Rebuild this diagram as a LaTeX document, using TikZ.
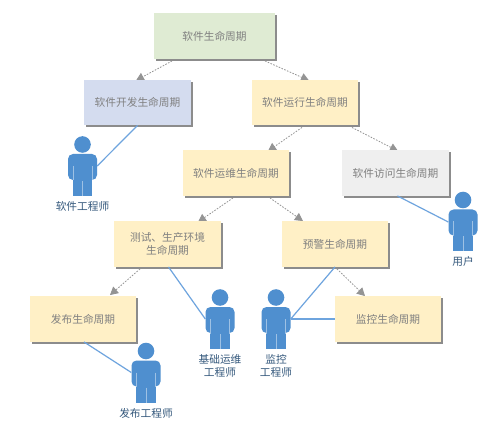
\documentclass[tikz,border=0pt]{standalone}
\usepackage{fontspec}
\setmainfont{Noto Sans CJK SC}
\usetikzlibrary{arrows.meta,shadows,backgrounds}
\definecolor{boxyellow}{HTML}{FFF0C6}
\definecolor{boxgreen}{HTML}{DFEBD3}
\definecolor{boxblue}{HTML}{D4DCEF}
\definecolor{boxgrey}{HTML}{EFEFEF}
\definecolor{boxtext}{HTML}{808080}
\definecolor{roletext}{HTML}{34587C}
\definecolor{linkblue}{HTML}{6EA4DE}
\definecolor{personblue}{HTML}{4F8FCF}
\tikzset{
  lifebox/.style={rectangle,minimum width=106.5pt,minimum height=45.5pt,inner sep=0pt,align=center,
    text=boxtext,font=\fontsize{10.7pt}{13.2pt}\selectfont,
    drop shadow={shadow xshift=2pt,shadow yshift=-2pt,fill=black!45,opacity=1}},
  personspot/.style={rectangle,minimum width=29pt,minimum height=42pt,inner sep=0pt},
  rolelabel/.style={text=roletext,font=\fontsize{10.7pt}{13pt}\selectfont,align=center,inner sep=0pt},
  flow/.style={draw=black!42,line width=0.8pt,dash pattern=on 1.6pt off 1.4pt,
    -{Triangle[length=8pt,width=8.5pt,fill=black!42]}},
  owner/.style={draw=linkblue,line width=1.2pt},
}
\newcommand{\personfig}[3]{%
  \node[personspot] (#1) at (#2,#3) {};
  \fill[personblue] (#2,#3-30.5) circle (8.3pt);
  \fill[personblue,rounded corners=5pt] (#2-14.5,#3+5) -- (#2-14.5,#3-21) -- (#2+14.5,#3-21) -- (#2+14.5,#3+5) -- cycle;
  \fill[personblue] (#2-9.7,#3+3) rectangle (#2+9.7,#3+21);
  \draw[white,opacity=.45,line width=.5pt] (#2,#3+6) -- (#2,#3+21) (#2-9.7,#3-9) -- (#2-9.7,#3+5.5) (#2+9.7,#3-9) -- (#2+9.7,#3+5.5);
}
\begin{document}
\begin{tikzpicture}[x=1pt,y=-1pt]
\useasboundingbox (0,0) rectangle (500,427);
\node[lifebox,fill=boxgreen,minimum width=121pt] (top) at (214.5,36) {软件生命周期};
\node[lifebox,fill=boxblue] (dev) at (137.5,102.5) {软件开发生命周期};
\node[lifebox,fill=boxyellow] (run) at (305,102.5) {软件运行生命周期};
\node[lifebox,fill=boxyellow] (ops) at (236,173) {软件运维生命周期};
\node[lifebox,fill=boxgrey] (visit) at (395.5,173) {软件访问生命周期};
\node[lifebox,fill=boxyellow] (test) at (167.5,244) {测试、生产环境\\生命周期};
\node[lifebox,fill=boxyellow] (alert) at (335,244) {预警生命周期};
\node[lifebox,fill=boxyellow] (release) at (83,319) {发布生命周期};
\node[lifebox,fill=boxyellow] (monitor) at (388,319) {监控生命周期};
\personfig{devman}{82.5}{175}
\personfig{user}{463}{230.5}
\personfig{opsman}{220}{328}
\personfig{relman}{146}{381.5}
\personfig{monman}{276}{328}
\node[rolelabel] (devrole) at (82.5,206) {软件工程师};
\node[rolelabel] (userrole) at (463,261) {用户};
\node[rolelabel] (opsrole) at (220,365.5) {基础运维\\工程师};
\node[rolelabel] (relrole) at (146,413) {发布工程师};
\node[rolelabel] (monrole) at (276,365.5) {监控\\工程师};
\begin{pgfonlayer}{background}
\fill[white] (0,0) rectangle (500,427);
\draw[flow] ([shift={(-42.5,2)}]top.south) -- ([shift={(-1.5,1)}]dev.north);
\draw[flow] ([shift={(50.5,2)}]top.south) -- ([shift={(4,1)}]run.north);
\draw[flow] ([shift={(-3,2)}]run.south) -- ([shift={(32,1)}]ops.north);
\draw[flow] ([shift={(47,2)}]run.south) -- ([shift={(2.5,1)}]visit.north);
\draw[flow] ([shift={(-3,2)}]ops.south) -- ([shift={(30.5,1)}]test.north);
\draw[flow] ([shift={(34,2)}]ops.south) -- ([shift={(-32,0)}]alert.north);
\draw[flow] ([shift={(-27.5,2)}]test.south) -- ([shift={(27,-1)}]release.north);
\draw[flow] ([shift={(2,2)}]alert.south) -- ([shift={(-23,0)}]monitor.north);
\end{pgfonlayer}
\draw[owner] ([xshift=0pt]dev.south) -- ([yshift=9pt]devman.east);
\draw[owner] ([xshift=2pt]visit.south) -- ([yshift=8.5pt]user.west);
\draw[owner] ([xshift=1pt]test.south) -- ([yshift=9pt]opsman.west);
\draw[owner] ([xshift=1pt]release.south) -- ([yshift=9pt]relman.west);
\draw[owner] (alert.south) -- ([yshift=9pt]monman.east);
\draw[owner] (monitor.west) -- ([yshift=9pt]monman.east);
\end{tikzpicture}
\end{document}
